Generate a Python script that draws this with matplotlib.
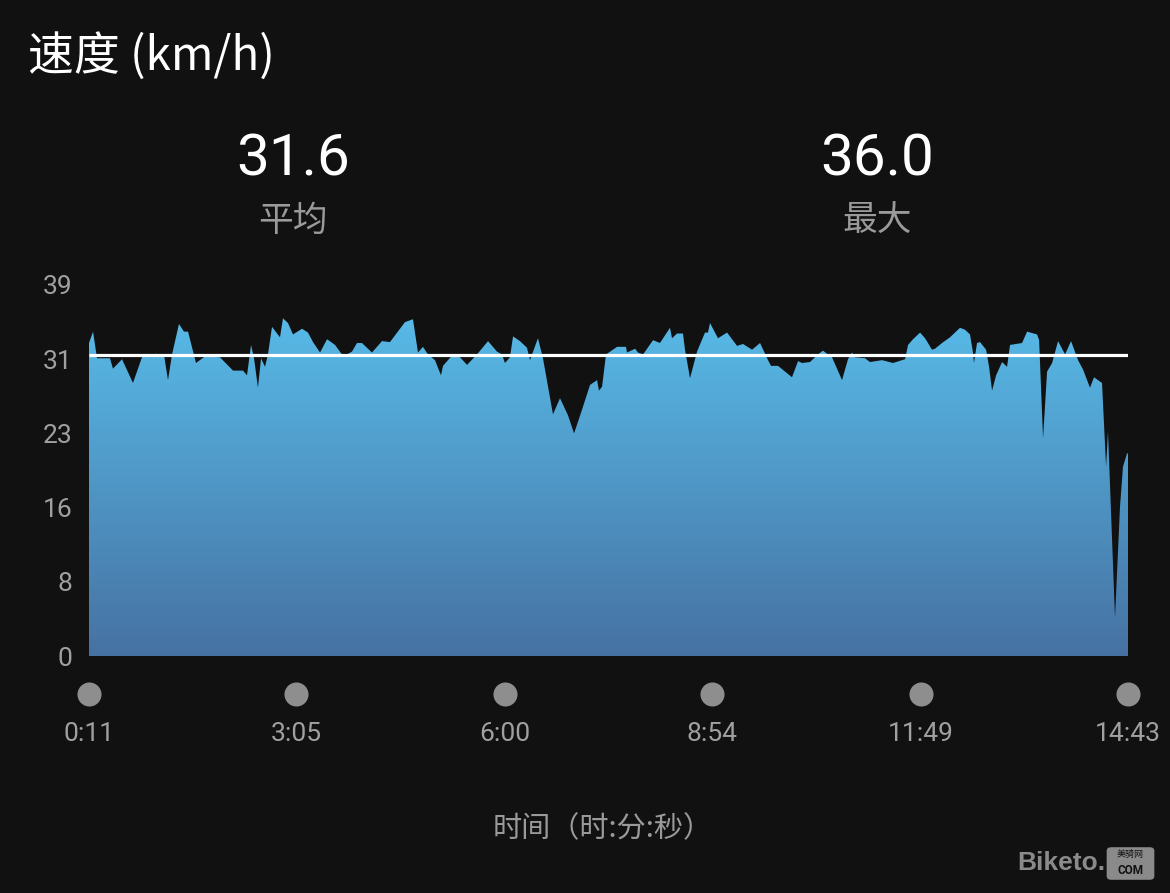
"""Speed profile chart (dark Garmin-style) rebuilt with matplotlib."""

import matplotlib
matplotlib.use("Agg")
import matplotlib.pyplot as plt
import matplotlib.transforms as mtransforms
from matplotlib.colors import LinearSegmentedColormap
from matplotlib.patches import Polygon, FancyBboxPatch
import numpy as np

plt.rcParams["font.family"] = ["Roboto", "Noto Sans CJK SC", "DejaVu Sans"]

# elapsed time (minutes) and speed (km/h)
minutes = [
    11.0, 14.4, 17.7, 28.6, 31.1, 38.7, 47.9, 56.3, 63.9, 67.2, 70.6, 73.9,
    77.3, 80.7, 86.5, 90.7, 94.1, 100.8, 108.4, 120.9, 131.9, 140.3, 143.6,
    147.0, 149.5, 152.8, 155.4, 158.7, 161.2, 164.6, 171.3, 173.8, 178.0,
    182.2, 189.8, 194.8, 199.0, 204.9, 210.8, 217.5, 223.3, 227.5, 231.7,
    235.9, 240.1, 248.5, 256.9, 263.6, 276.2, 282.9, 287.1, 291.3, 295.5,
    301.4, 306.4, 308.1, 312.3, 316.5, 322.4, 328.3, 336.6, 345.9, 353.4,
    357.6, 360.1, 364.3, 366.9, 372.7, 378.6, 381.1, 387.8, 392.0, 400.4,
    406.3, 413.0, 418.1, 424.8, 431.5, 437.4, 439.0, 441.6, 444.9, 454.2,
    461.7, 462.5, 469.3, 471.8, 476.0, 484.4, 490.2, 498.6, 500.3, 504.5,
    509.5, 511.2, 515.4, 521.3, 528.0, 530.5, 532.2, 538.9, 546.5, 554.9,
    559.9, 567.5, 574.2, 580.9, 583.4, 589.3, 601.0, 606.1, 609.4, 616.1,
    622.8, 627.0, 631.2, 634.6, 643.0, 648.0, 651.4, 653.9, 662.3, 666.5,
    676.6, 685.8, 695.9, 698.4, 702.6, 708.5, 712.7, 718.5, 721.0, 726.9,
    733.6, 742.0, 746.2, 750.4, 752.9, 753.7, 756.3, 758.8, 763.9, 766.4,
    768.9, 772.3, 777.3, 781.5, 784.0, 794.1, 798.3, 806.7, 808.4, 811.7,
    815.1, 819.3, 824.3, 830.2, 835.2, 841.1, 845.3, 851.1, 854.5, 861.2,
    864.6, 866.2, 872.1, 876.3, 878.8, 882.2, 883.0,
]
speed = [
    32.9, 34.1, 31.3, 31.3, 30.2, 31.2, 28.7, 31.7, 31.4, 31.8, 31.4, 31.7,
    29.0, 31.7, 34.9, 34.1, 34.1, 30.8, 31.5, 31.4, 30.0, 30.0, 29.5,
    32.7, 31.3, 28.2, 31.3, 30.4, 31.7, 34.6, 33.5, 35.5, 35.0,
    33.8, 34.4, 34.0, 33.0, 31.9, 33.3, 32.7, 31.7, 31.7, 32.0,
    32.9, 32.9, 31.9, 33.1, 33.0, 35.1, 35.4, 31.9, 32.5, 31.7,
    31.1, 29.5, 30.5, 31.1, 31.7, 31.4, 30.6, 31.7, 33.1, 32.0,
    31.7, 30.8, 31.4, 33.6, 33.1, 32.4, 31.1, 33.4, 31.3, 25.4,
    27.1, 25.3, 23.4, 25.9, 28.5, 29.0, 27.9, 28.3, 31.7, 32.5,
    32.5, 31.9, 32.3, 31.9, 31.7, 33.2, 32.9, 34.5, 33.4, 33.9,
    33.9, 32.2, 29.2, 32.0, 34.0, 34.0, 35.0, 33.4, 34.0, 32.6,
    32.8, 32.2, 32.9, 31.1, 30.5, 30.5, 29.3, 31.0, 30.8, 30.9,
    31.7, 32.1, 31.7, 31.4, 29.0, 31.2, 31.9, 31.4, 31.3, 30.9,
    31.1, 30.8, 31.2, 32.7, 33.3, 34.0, 33.4, 32.2, 32.3, 32.9,
    33.5, 34.5, 34.3, 33.8, 31.9, 30.8, 32.9, 33.0, 32.2, 30.4,
    27.9, 29.5, 30.9, 30.4, 32.7, 32.9, 34.1, 33.8, 33.2, 22.9,
    29.9, 30.8, 33.1, 31.7, 33.1, 31.1, 30.1, 28.2, 29.3, 28.7,
    19.9, 23.6, 4.0, 15.7, 19.9, 21.3, 21.3,
]

avg_speed = 31.6
max_speed = 36.0
y_max = 39
y_ticks = [0, 7.8, 15.6, 23.4, 31.2, 39.0]
x_ticks = [11, 185, 360, 534, 709, 883]

title = "速度 (km/h)"
stat_labels = ["平均", "最大"]
x_title = "时间（时:分:秒）"

BG = "#111111"
GREY = "#a0a0a0"
CJK = ["Noto Sans CJK SC", "DejaVu Sans"]

fig = plt.figure(figsize=(11.7, 8.93), dpi=100, facecolor=BG)
ax = fig.add_axes([89 / 1170, 1 - 656 / 893, 1039 / 1170, 371 / 893])
ax.set_facecolor(BG)

t = np.array(minutes)
v = np.array(speed)

# gradient fill clipped to the area under the curve
cmap = LinearSegmentedColormap.from_list("spd", ["#4672a3", "#58bbe8"])
grad = np.linspace(0, 1, 256).reshape(-1, 1)
im = ax.imshow(grad, extent=[t[0], t[-1], 0, 36], origin="lower",
               aspect="auto", cmap=cmap, zorder=1)
verts = [(t[0], 0)] + list(zip(t, v)) + [(t[-1], 0)]
area = Polygon(verts, closed=True, facecolor="none", edgecolor="none")
ax.add_patch(area)
im.set_clip_path(area)

ax.plot([t[0], t[-1]], [avg_speed, avg_speed], color="white", lw=2.3,
        solid_capstyle="butt", zorder=3)

ax.set_xlim(t[0], t[-1])
ax.set_ylim(0, y_max)
for s in ax.spines.values():
    s.set_visible(False)
ax.set_yticks(y_ticks)
ax.set_yticklabels([f"{round(y):d}" for y in y_ticks])
ax.tick_params(axis="y", length=0, pad=12, labelsize=19, labelcolor=GREY)
ax.set_xticks([])

# round markers and time labels under the plot
trans = mtransforms.blended_transform_factory(ax.transData, ax.transAxes)
ax.scatter(x_ticks, [-38 / 371] * len(x_ticks), s=300, color="#8e8e8e",
           transform=trans, clip_on=False, zorder=4, linewidths=0)
for m in x_ticks:
    ax.text(m, -78 / 371, f"{m // 60}:{m % 60:02d}", transform=trans,
            ha="center", va="center", fontsize=19, color=GREY)

fig.text(28 / 1170, 1 - 57 / 893, title, fontsize=33, color="white",
         ha="left", va="center", family=CJK)

for xp, val, lab in [(293, avg_speed, stat_labels[0]),
                     (877, max_speed, stat_labels[1])]:
    fig.text(xp / 1170, 1 - 160 / 893, f"{val:.1f}", fontsize=42,
             color="white", ha="center", va="center")
    fig.text(xp / 1170, 1 - 221 / 893, lab, fontsize=25, color="#9a9a9a",
             ha="center", va="center", family=CJK)

fig.text(603 / 1170, 1 - 829 / 893, x_title, fontsize=21, color="#9a9a9a",
         ha="center", va="center", family=CJK)

# watermark
fig.text(1017 / 1170, 1 - 863 / 893, "Biketo.", fontsize=19, color="#8a8a8a",
         weight="bold", ha="left", va="center",
         family=["Liberation Sans", "DejaVu Sans"])
badge = FancyBboxPatch((1109 / 1170, 1 - 878 / 893), 43 / 1170, 29 / 893,
                       boxstyle="round,pad=0.002,rounding_size=0.004",
                       transform=fig.transFigure, facecolor="#8a8a8a",
                       edgecolor="none")
fig.patches.append(badge)
fig.text(1130 / 1170, 1 - 855 / 893, "美骑网", fontsize=6.5, color=BG,
         ha="center", va="center", family=CJK)
fig.text(1130 / 1170, 1 - 870 / 893, "COM", fontsize=8.5, color=BG,
         weight="bold", ha="center", va="center")

fig.savefig("out.png", dpi=100, facecolor=BG)
